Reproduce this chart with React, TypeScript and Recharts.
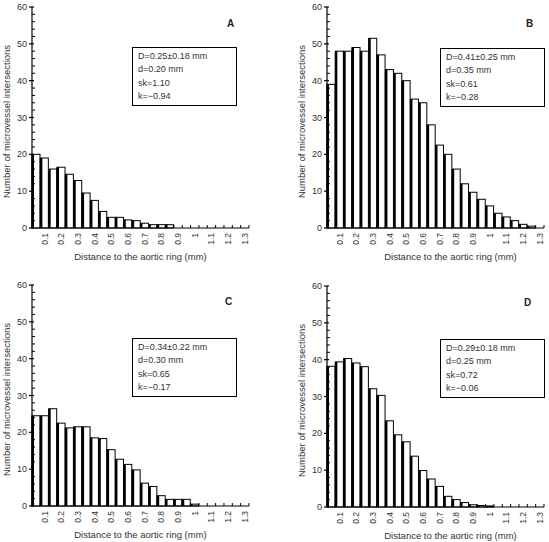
import React from "react";
import { BarChart, Bar, XAxis, YAxis, Label } from "recharts";

// bin upper bounds (mm), 0.05 wide
const bins = [
  "0.05", "0.1", "0.15", "0.2", "0.25", "0.3", "0.35", "0.4", "0.45", "0.5",
  "0.55", "0.6", "0.65", "0.7", "0.75", "0.8", "0.85", "0.9", "0.95", "1",
  "1.05", "1.1", "1.15", "1.2", "1.25", "1.3",
];
const xLabels = ["0.1", "0.2", "0.3", "0.4", "0.5", "0.6", "0.7", "0.8", "0.9", "1", "1.1", "1.2", "1.3"];
const yTicks = [0, 2, 4, 6, 8, 10, 12, 14, 16, 18, 20, 22, 24, 26, 28, 30, 32, 34, 36, 38, 40, 42, 44, 46, 48, 50, 52, 54, 56, 58, 60];

const countsA = [20, 19, 16, 16.5, 14.6, 12.9, 9.5, 7.5, 4.5, 2.9, 2.9, 2.2, 2, 1.3, 0.9, 0.9, 0.9, 0, 0, 0, 0, 0, 0, 0, 0, 0];
const countsB = [39, 48, 48, 49, 48, 51.5, 47, 43, 42, 40, 35, 34, 28, 22.5, 20, 16, 12, 9.7, 7.8, 6, 4, 3, 2, 1, 0.5, 0];
const countsC = [24.5, 24.5, 26.4, 22.5, 21.2, 21.5, 21.5, 18.5, 18.3, 15.3, 12.7, 11.3, 9.8, 6.2, 5.3, 2.8, 1.8, 1.8, 1.8, 0.5, 0, 0, 0, 0, 0, 0];
const countsD = [38.2, 39.4, 40.3, 39.1, 38.1, 32.1, 30.3, 23.4, 19.6, 17.7, 13.8, 9.9, 7.6, 5.6, 2.9, 2, 1.2, 0.6, 0.4, 0.3, 0, 0, 0, 0, 0, 0];

const statsA = ["D=0.25±0.18 mm", "d=0.20 mm", "sk=1.10", "k=−0.94"];
const statsB = ["D=0.41±0.25 mm", "d=0.35 mm", "sk=0.61", "k=−0.28"];
const statsC = ["D=0.34±0.22 mm", "d=0.30 mm", "sk=0.65", "k=−0.17"];
const statsD = ["D=0.29±0.18 mm", "d=0.25 mm", "sk=0.72", "k=−0.06"];

const FONT = "'Liberation Sans', Arial, Helvetica, sans-serif";

const HistBar = (props: any) => {
  const { x, y, width, height } = props;
  if (!height || height <= 0) return null;
  return (
    <g>
      <rect x={x} y={y} width={width} height={height} fill="#fff" stroke="#000" strokeWidth={1} />
      <rect x={x - 0.5} y={y} width={2.5} height={height} fill="#000" />
    </g>
  );
};

const XTick = (props: any) => {
  const { x, y, payload, index, visibleTicksCount } = props;
  const half = payload.offset || 0;
  const show = xLabels.includes(String(payload.value));
  return (
    <g>
      <line x1={x - half} x2={x - half} y1={y} y2={y - 3} stroke="#000" />
      {index === visibleTicksCount - 1 && (
        <line x1={x + half} x2={x + half} y1={y} y2={y - 3} stroke="#000" />
      )}
      {show && (
        <text
          transform={`translate(${x + 3},${y + 5}) rotate(-90)`}
          textAnchor="end"
          fontSize={8.5}
          fontFamily={FONT}
          fill="#333"
        >
          {payload.value}
        </text>
      )}
    </g>
  );
};

const YTick = (props: any) => {
  const { x, y, payload } = props;
  const major = payload.value % 10 === 0;
  return (
    <g>
      {major ? (
        <>
          <line x1={x - 3} x2={x + 2} y1={y} y2={y} stroke="#000" strokeWidth={1.2} />
          <text x={x - 5} y={y} dy="0.35em" textAnchor="end" fontSize={9} fontFamily={FONT} fill="#333">
            {payload.value}
          </text>
        </>
      ) : (
        <line x1={x} x2={x + 3} y1={y} y2={y} stroke="#000" />
      )}
    </g>
  );
};

const XTitle = (shift: number) => (props: any) => {
  const { x, y, width } = props.viewBox;
  return (
    <text x={x + width / 2 + shift} y={y + 29} dy="0.35em" textAnchor="middle" fontSize={9.5} fontFamily={FONT} fill="#333">
      Distance to the aortic ring (mm)
    </text>
  );
};

const YTitle = (props: any) => {
  const { x, y, height } = props.viewBox;
  const cx = x + 7;
  const cy = y + height / 2 + 4;
  return (
    <text
      transform={`translate(${cx},${cy}) rotate(-90)`}
      dy="0.35em"
      textAnchor="middle"
      fontSize={9.5}
      fontFamily={FONT}
      fill="#333"
    >
      Number of microvessel intersections
    </text>
  );
};

interface PanelProps {
  counts: number[];
  stats: string[];
  letter: string;
  left: number;
  top: number;
  boxLeft: number;
  boxTop: number;
  letterLeft: number;
  titleShift: number;
}

const Panel = ({ counts, stats, letter, left, top, boxLeft, boxTop, letterLeft, titleShift }: PanelProps) => {
  const data = bins.map((b, i) => ({ bin: b, count: counts[i] }));
  return (
    <div style={{ position: "absolute", left, top, width: 253, height: 271 }}>
      <BarChart width={253} height={271} data={data} margin={{ top: 7, right: 4, left: 0, bottom: 0 }} barCategoryGap={0}>
        <XAxis
          dataKey="bin"
          height={43}
          interval={0}
          tickSize={0}
          tickMargin={0}
          tickLine={false}
          tick={<XTick />}
          axisLine={{ stroke: "#000", strokeWidth: 1.2 }}
        >
          <Label content={XTitle(titleShift)} />
        </XAxis>
        <YAxis
          width={32}
          domain={[0, 60]}
          ticks={yTicks}
          interval={0}
          tickSize={0}
          tickMargin={0}
          tickLine={false}
          tick={<YTick />}
          axisLine={{ stroke: "#000", strokeWidth: 1.2 }}
        >
          <Label content={YTitle} />
        </YAxis>
        <Bar dataKey="count" shape={<HistBar />} isAnimationActive={false} />
      </BarChart>
      <div
        style={{
          position: "absolute",
          left: letterLeft - 5,
          top: 18,
          fontFamily: FONT,
          fontWeight: "bold",
          fontSize: 10,
          color: "#222",
        }}
      >
        {letter}
      </div>
      <div
        style={{
          position: "absolute",
          left: boxLeft,
          top: boxTop,
          width: 105,
          boxSizing: "border-box",
          border: "1.3px solid #000",
          padding: "2px 5px",
          fontFamily: FONT,
          fontSize: 9,
          lineHeight: "13.3px",
          color: "#333",
          background: "#fff",
        }}
      >
        {stats.map((s) => (
          <div key={s}>{s}</div>
        ))}
      </div>
    </div>
  );
};

export default function App() {
  return (
    <div style={{ position: "absolute", left: 0, top: 0, width: 549, height: 542, background: "#fff" }}>
      <Panel counts={countsA} stats={statsA} letter="A" left={0} top={0} boxLeft={132} boxTop={47} letterLeft={232} titleShift={0} />
      <Panel counts={countsB} stats={statsB} letter="B" left={295} top={0} boxLeft={145} boxTop={48} letterLeft={236} titleShift={15} />
      <Panel counts={countsC} stats={statsC} letter="C" left={0} top={278} boxLeft={132} boxTop={60} letterLeft={230} titleShift={0} />
      <Panel counts={countsD} stats={statsD} letter="D" left={295} top={279} boxLeft={145} boxTop={60} letterLeft={234} titleShift={15} />
    </div>
  );
}
